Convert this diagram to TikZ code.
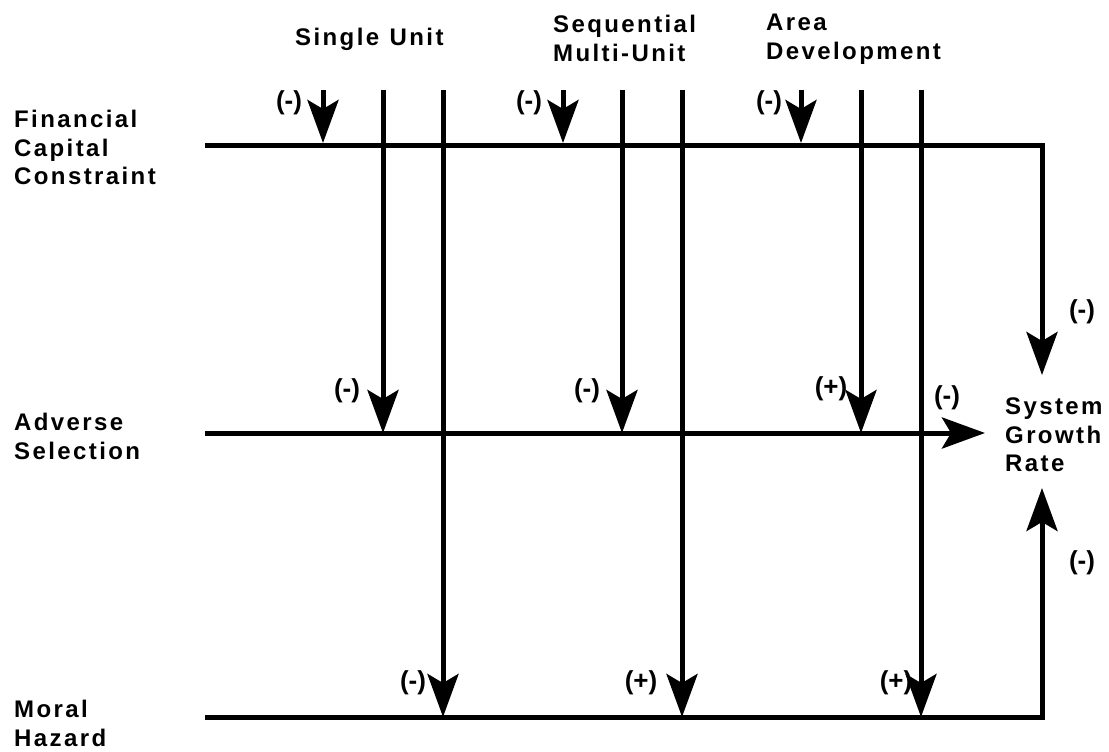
\documentclass[tikz,border=0pt]{standalone}
\usepackage{fontspec}
\setmainfont{Liberation Sans}
\newfontfamily\lblfont[LetterSpace=10,WordSpace=1.15]{Liberation Sans Bold}
\newfontfamily\signfont{Liberation Sans Bold}
\usetikzlibrary{arrows.meta}
\begin{document}
\begin{tikzpicture}[x=1pt,y=-1pt,
  arr/.style={line width=5pt,line join=miter,-{Stealth[length=43pt,width=31pt,inset=9pt]}},
  lbl/.style={font=\lblfont\fontsize{24}{28.5}\selectfont,inner sep=0pt,align=left,anchor=north west},
  sign/.style={font=\signfont\fontsize{26}{30}\selectfont,inner sep=0pt}]
\useasboundingbox (0,0) rectangle (1109,752);
% row labels
\node[lbl] (fin) at (14,110) {Financial\\Capital\\Constraint};
\node[lbl] (adv) at (14,413) {Adverse\\Selection};
\node[lbl] (mor) at (14,700) {Moral\\Hazard};
% column headers
\node[lbl] (single) at (295,28) {Single Unit};
\node[lbl] (seq) at (553,15) {Sequential\\Multi-Unit};
\node[lbl] (area) at (766,14) {Area\\Development};
\node[lbl] (sgr) at (1005,398) {System\\Growth\\Rate};
% row line coordinates
\coordinate (fcL) at (205,145);
\coordinate (fcR) at (1042,145);
\coordinate (fcT) at (1042,375);
\coordinate (asL) at (205,433);
\coordinate (asT) at (985,433);
\coordinate (mhL) at (205,717);
\coordinate (mhR) at (1042,717);
\coordinate (mhT) at (1042,488);
% tops of column arrows
\foreach \n/\x in {a1/323,a2/383,a3/443,b1/563,b2/622,b3/682,c1/801,c2/861,c3/921}{
  \coordinate (\n top) at (\x,90);
}
\foreach \n/\x in {a1/323,b1/563,c1/801}{\coordinate (\n end) at (\x,143);}
\foreach \n/\x in {a2/383,b2/622,c2/861}{\coordinate (\n end) at (\x,433);}
\foreach \n/\x in {a3/443,b3/682,c3/921}{\coordinate (\n end) at (\x,717);}
% row lines
\draw[arr] (fcL) -- (fcR) -- (fcT);
\draw[arr] (asL) -- (asT);
\draw[arr] (mhL) -- (mhR) -- (mhT);
% column arrows
\foreach \n in {a1,a2,a3,b1,b2,b3,c1,c2,c3}{
  \draw[arr] (\n top) -- (\n end);
}
% signs
\node[sign] (s1) at (289,103) {(-)};
\node[sign] (s2) at (529,103) {(-)};
\node[sign] (s3) at (769,103) {(-)};
\node[sign] (s4) at (347,391) {(-)};
\node[sign] (s5) at (587,391) {(-)};
\node[sign] (s6) at (831,389) {(+)};
\node[sign] (s7) at (413,683) {(-)};
\node[sign] (s8) at (641,683) {(+)};
\node[sign] (s9) at (896,683) {(+)};
\node[sign] (s10) at (947,398) {(-)};
\node[sign] (s11) at (1082,312) {(-)};
\node[sign] (s12) at (1082,563) {(-)};
\end{tikzpicture}
\end{document}
